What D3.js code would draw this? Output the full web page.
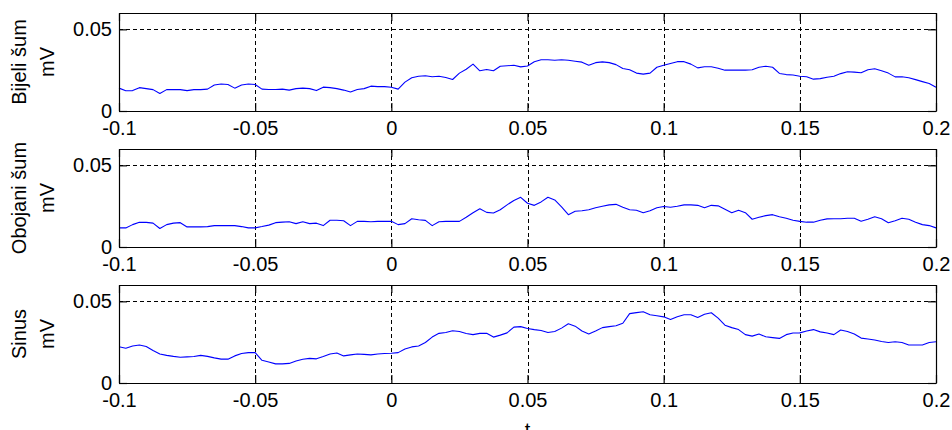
<!DOCTYPE html>
<html>
<head>
<meta charset="utf-8">
<script src="https://cdn.jsdelivr.net/npm/d3@7"></script>
<style>
  html, body { margin: 0; padding: 0; background: #fff; }
  svg { display: block; }
  text { font-family: "Liberation Sans", Arial, Helvetica, sans-serif; fill: #000; }
</style>
</head>
<body>
<svg id="chart" width="952" height="430"></svg>
<script>
// Sampling grid of the recordings (seconds)
const tStart = -0.1;
const tStep = 0.0025;

// Signal amplitude (mV) for each recording, one value per sample
const bijeliSum = [
  0.0140, 0.0124, 0.0125, 0.0143, 0.0137, 0.0131, 0.0107, 0.0131, 0.0131, 0.0131,
  0.0125, 0.0131, 0.0131, 0.0134, 0.0159, 0.0165, 0.0162, 0.0140, 0.0159, 0.0165,
  0.0162, 0.0134, 0.0132, 0.0132, 0.0134, 0.0128, 0.0137, 0.0140, 0.0137, 0.0125,
  0.0146, 0.0143, 0.0137, 0.0128, 0.0116, 0.0132, 0.0137, 0.0152, 0.0149, 0.0149,
  0.0145, 0.0134, 0.0177, 0.0204, 0.0213, 0.0216, 0.0210, 0.0213, 0.0205, 0.0193,
  0.0232, 0.0256, 0.0287, 0.0246, 0.0254, 0.0246, 0.0274, 0.0277, 0.0280, 0.0270,
  0.0276, 0.0302, 0.0314, 0.0314, 0.0311, 0.0314, 0.0311, 0.0305, 0.0299, 0.0280,
  0.0296, 0.0301, 0.0296, 0.0284, 0.0260, 0.0253, 0.0232, 0.0226, 0.0232, 0.0268,
  0.0280, 0.0291, 0.0302, 0.0302, 0.0287, 0.0264, 0.0271, 0.0271, 0.0262, 0.0250,
  0.0250, 0.0250, 0.0250, 0.0253, 0.0268, 0.0274, 0.0268, 0.0230, 0.0223, 0.0220,
  0.0213, 0.0210, 0.0195, 0.0198, 0.0207, 0.0213, 0.0229, 0.0240, 0.0238, 0.0234,
  0.0253, 0.0259, 0.0247, 0.0232, 0.0209, 0.0210, 0.0204, 0.0192, 0.0180, 0.0168,
  0.0145
];

const obojaniSum = [
  0.0117, 0.0117, 0.0137, 0.0151, 0.0151, 0.0146, 0.0113, 0.0137, 0.0146, 0.0149,
  0.0123, 0.0123, 0.0123, 0.0125, 0.0131, 0.0131, 0.0131, 0.0131, 0.0125, 0.0117,
  0.0117, 0.0125, 0.0134, 0.0149, 0.0152, 0.0155, 0.0143, 0.0155, 0.0143, 0.0146,
  0.0131, 0.0164, 0.0164, 0.0161, 0.0131, 0.0157, 0.0157, 0.0155, 0.0157, 0.0157,
  0.0157, 0.0137, 0.0143, 0.0173, 0.0167, 0.0163, 0.0131, 0.0155, 0.0157, 0.0157,
  0.0157, 0.0182, 0.0210, 0.0234, 0.0212, 0.0208, 0.0228, 0.0258, 0.0285, 0.0304,
  0.0268, 0.0255, 0.0276, 0.0305, 0.0288, 0.0246, 0.0198, 0.0219, 0.0222, 0.0228,
  0.0240, 0.0249, 0.0258, 0.0261, 0.0243, 0.0228, 0.0225, 0.0210, 0.0222, 0.0240,
  0.0248, 0.0243, 0.0249, 0.0258, 0.0258, 0.0255, 0.0240, 0.0255, 0.0252, 0.0231,
  0.0210, 0.0225, 0.0210, 0.0170, 0.0182, 0.0192, 0.0198, 0.0185, 0.0176, 0.0164,
  0.0157, 0.0152, 0.0152, 0.0164, 0.0172, 0.0173, 0.0173, 0.0176, 0.0176, 0.0158,
  0.0170, 0.0185, 0.0173, 0.0149, 0.0161, 0.0176, 0.0170, 0.0152, 0.0137, 0.0131,
  0.0117
];

const sinus = [
  0.0222, 0.0213, 0.0227, 0.0233, 0.0224, 0.0199, 0.0178, 0.0169, 0.0163, 0.0158,
  0.0160, 0.0162, 0.0169, 0.0163, 0.0154, 0.0146, 0.0146, 0.0166, 0.0181, 0.0186,
  0.0186, 0.0139, 0.0129, 0.0117, 0.0117, 0.0120, 0.0135, 0.0145, 0.0151, 0.0148,
  0.0162, 0.0178, 0.0184, 0.0166, 0.0172, 0.0178, 0.0175, 0.0172, 0.0178, 0.0181,
  0.0182, 0.0186, 0.0208, 0.0221, 0.0227, 0.0248, 0.0281, 0.0304, 0.0309, 0.0320,
  0.0315, 0.0303, 0.0296, 0.0304, 0.0304, 0.0281, 0.0293, 0.0307, 0.0342, 0.0345,
  0.0334, 0.0327, 0.0321, 0.0309, 0.0315, 0.0336, 0.0363, 0.0348, 0.0318, 0.0300,
  0.0318, 0.0339, 0.0345, 0.0351, 0.0366, 0.0425, 0.0431, 0.0436, 0.0418, 0.0412,
  0.0405, 0.0389, 0.0406, 0.0418, 0.0418, 0.0401, 0.0421, 0.0430, 0.0397, 0.0354,
  0.0339, 0.0327, 0.0296, 0.0287, 0.0300, 0.0283, 0.0278, 0.0273, 0.0296, 0.0306,
  0.0307, 0.0318, 0.0327, 0.0313, 0.0306, 0.0296, 0.0324, 0.0315, 0.0300, 0.0275,
  0.0269, 0.0263, 0.0254, 0.0248, 0.0253, 0.0248, 0.0233, 0.0233, 0.0233, 0.0248,
  0.0253
];

// Panel titles (y-axis labels, two lines each)
const panelLabels = [["Bijeli šum", "mV"], ["Obojani šum", "mV"], ["Sinus", "mV"]];
const panelSeries = [bijeliSum, obojaniSum, sinus];

// Axis settings
const xDomain = [-0.1, 0.2];
const yDomain = [0, 0.06];
const xTicks = [-0.1, -0.05, 0, 0.05, 0.1, 0.15, 0.2];
const xTickLabels = ["-0.1", "-0.05", "0", "0.05", "0.1", "0.15", "0.2"];
const yTicks = [0, 0.05];
const yTickLabels = ["0", "0.05"];
const xLabel = "t";

// Layout
const plotLeft = 119, plotRight = 936;
const panelTops = [13, 149, 285];
const panelHeight = 98;
const tickLen = 8;
const fontSize = 20;

const svg = d3.select("#chart");
svg.append("rect").attr("width", 952).attr("height", 430).attr("fill", "#fff");

const x = d3.scaleLinear().domain(xDomain).range([plotLeft, plotRight]);

panelSeries.forEach((series, i) => {
  const top = panelTops[i];
  const bottom = top + panelHeight;
  const y = d3.scaleLinear().domain(yDomain).range([bottom, top]);
  const g = svg.append("g");

  // dashed grid at interior ticks
  const grid = g.append("g")
    .attr("stroke", "#000")
    .attr("stroke-width", 1)
    .attr("stroke-dasharray", "4,3")
    .attr("shape-rendering", "crispEdges");
  grid.selectAll("line.gx")
    .data(xTicks.filter(d => d > xDomain[0] && d < xDomain[1]))
    .join("line")
    .attr("class", "gx")
    .attr("x1", d => Math.round(x(d)) + 0.5)
    .attr("x2", d => Math.round(x(d)) + 0.5)
    .attr("y1", top)
    .attr("y2", bottom);
  grid.selectAll("line.gy")
    .data(yTicks.filter(d => d > yDomain[0] && d < yDomain[1]))
    .join("line")
    .attr("class", "gy")
    .attr("x1", plotLeft)
    .attr("x2", plotRight)
    .attr("y1", d => Math.round(y(d)) + 0.5)
    .attr("y2", d => Math.round(y(d)) + 0.5);

  // signal trace
  const line = d3.line()
    .x((d, k) => x(tStart + k * tStep))
    .y(d => y(d));
  g.append("path")
    .datum(series)
    .attr("fill", "none")
    .attr("stroke", "#0000ff")
    .attr("stroke-width", 1.1)
    .attr("stroke-linejoin", "round")
    .attr("d", line);

  // axes with inward ticks (box)
  const fmtX = d => xTickLabels[xTicks.indexOf(d)];
  const fmtY = d => yTickLabels[yTicks.indexOf(d)];

  const axB = g.append("g")
    .attr("transform", `translate(0,${bottom})`)
    .call(d3.axisBottom(x).tickValues(xTicks).tickFormat(fmtX)
      .tickSizeInner(-tickLen).tickSizeOuter(0).tickPadding(10));
  const axT = g.append("g")
    .attr("transform", `translate(0,${top})`)
    .call(d3.axisTop(x).tickValues(xTicks).tickFormat("")
      .tickSizeInner(-tickLen).tickSizeOuter(0));
  const axL = g.append("g")
    .attr("transform", `translate(${plotLeft},0)`)
    .call(d3.axisLeft(y).tickValues(yTicks).tickFormat(fmtY)
      .tickSizeInner(-tickLen).tickSizeOuter(0).tickPadding(7));
  const axR = g.append("g")
    .attr("transform", `translate(${plotRight},0)`)
    .call(d3.axisRight(y).tickValues(yTicks).tickFormat("")
      .tickSizeInner(-tickLen).tickSizeOuter(0));

  [axB, axT, axL, axR].forEach(a => {
    a.selectAll("path.domain").attr("stroke", "#000").attr("stroke-width", 1.2);
    a.selectAll(".tick line").attr("stroke", "#000").attr("stroke-width", 1.2);
    a.selectAll(".tick text")
      .attr("font-size", fontSize)
      .attr("font-family", "Liberation Sans, Arial, sans-serif")
      .attr("fill", "#000");
  });

  // two-line rotated y label
  const cy = (top + bottom) / 2;
  const lab = g.append("g").attr("font-size", fontSize).attr("text-anchor", "middle");
  lab.append("text")
    .attr("transform", `translate(26,${cy}) rotate(-90)`)
    .text(panelLabels[i][0]);
  lab.append("text")
    .attr("transform", `translate(54,${cy}) rotate(-90)`)
    .text(panelLabels[i][1]);
});

// x-axis title under the last panel
svg.append("text")
  .attr("x", (plotLeft + plotRight) / 2)
  .attr("y", 437)
  .attr("text-anchor", "middle")
  .attr("font-size", fontSize)
  .text(xLabel);
</script>
</body>
</html>
